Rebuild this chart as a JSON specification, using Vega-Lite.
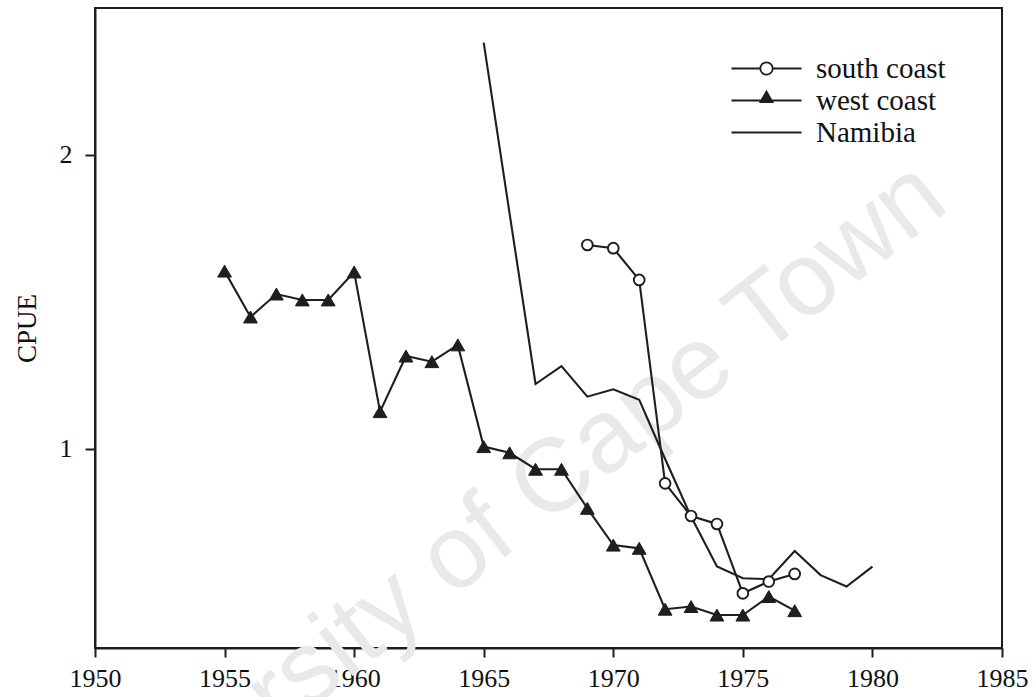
{
  "$schema": "https://vega.github.io/schema/vega-lite/v6.json",
  "width": 907,
  "height": 640,
  "autosize": {"type": "none"},
  "padding": {"left": 95, "top": 8, "right": 33, "bottom": 49},
  "background": "white",
  "config": {
    "view": {"stroke": "#1e1e1e", "strokeWidth": 2},
    "font": "Liberation Serif",
    "axis": {
      "domainColor": "#1e1e1e", "domainWidth": 2,
      "tickColor": "#1e1e1e", "tickWidth": 2,
      "labelFont": "Liberation Serif", "labelFontSize": 26, "labelColor": "#111111",
      "titleFont": "Liberation Serif", "titleFontSize": 27, "titleFontWeight": "normal", "titleColor": "#111111",
      "grid": false, "zindex": 1
    },
    "legend": {"symbolStrokeWidth": 1.8, "symbolStrokeColor": "#1e1e1e", "symbolOpacity": 1}
  },
  "data": {
    "values": [
      {"series": "west coast", "year": 1955, "cpue": 1.605},
      {"series": "west coast", "year": 1956, "cpue": 1.449},
      {"series": "west coast", "year": 1957, "cpue": 1.527},
      {"series": "west coast", "year": 1958, "cpue": 1.507},
      {"series": "west coast", "year": 1959, "cpue": 1.507},
      {"series": "west coast", "year": 1960, "cpue": 1.602},
      {"series": "west coast", "year": 1961, "cpue": 1.127},
      {"series": "west coast", "year": 1962, "cpue": 1.316},
      {"series": "west coast", "year": 1963, "cpue": 1.297},
      {"series": "west coast", "year": 1964, "cpue": 1.354},
      {"series": "west coast", "year": 1965, "cpue": 1.008},
      {"series": "west coast", "year": 1966, "cpue": 0.987},
      {"series": "west coast", "year": 1967, "cpue": 0.931},
      {"series": "west coast", "year": 1968, "cpue": 0.931},
      {"series": "west coast", "year": 1969, "cpue": 0.798},
      {"series": "west coast", "year": 1970, "cpue": 0.673},
      {"series": "west coast", "year": 1971, "cpue": 0.662},
      {"series": "west coast", "year": 1972, "cpue": 0.455},
      {"series": "west coast", "year": 1973, "cpue": 0.464},
      {"series": "west coast", "year": 1974, "cpue": 0.435},
      {"series": "west coast", "year": 1975, "cpue": 0.435},
      {"series": "west coast", "year": 1976, "cpue": 0.498},
      {"series": "west coast", "year": 1977, "cpue": 0.450},
      {"series": "south coast", "year": 1969, "cpue": 1.694},
      {"series": "south coast", "year": 1970, "cpue": 1.683},
      {"series": "south coast", "year": 1971, "cpue": 1.575},
      {"series": "south coast", "year": 1972, "cpue": 0.883},
      {"series": "south coast", "year": 1973, "cpue": 0.772},
      {"series": "south coast", "year": 1974, "cpue": 0.745},
      {"series": "south coast", "year": 1975, "cpue": 0.509},
      {"series": "south coast", "year": 1976, "cpue": 0.549},
      {"series": "south coast", "year": 1977, "cpue": 0.575},
      {"series": "Namibia", "year": 1965, "cpue": 2.382},
      {"series": "Namibia", "year": 1966, "cpue": 1.80},
      {"series": "Namibia", "year": 1967, "cpue": 1.221},
      {"series": "Namibia", "year": 1968, "cpue": 1.282},
      {"series": "Namibia", "year": 1969, "cpue": 1.178},
      {"series": "Namibia", "year": 1970, "cpue": 1.203},
      {"series": "Namibia", "year": 1971, "cpue": 1.167},
      {"series": "Namibia", "year": 1972, "cpue": 0.966},
      {"series": "Namibia", "year": 1973, "cpue": 0.770},
      {"series": "Namibia", "year": 1974, "cpue": 0.600},
      {"series": "Namibia", "year": 1975, "cpue": 0.560},
      {"series": "Namibia", "year": 1976, "cpue": 0.557},
      {"series": "Namibia", "year": 1977, "cpue": 0.653},
      {"series": "Namibia", "year": 1978, "cpue": 0.571},
      {"series": "Namibia", "year": 1979, "cpue": 0.532},
      {"series": "Namibia", "year": 1980, "cpue": 0.600}
    ]
  },
  "layer": [
    {
      "data": {"values": [{"label": "University of Cape Town"}]},
      "mark": {"type": "text", "font": "Liberation Sans", "fontSize": 104, "angle": -38, "color": "#e9e9e9", "align": "center", "baseline": "middle"},
      "encoding": {
        "text": {"field": "label"},
        "x": {"datum": 1965.3, "type": "quantitative"},
        "y": {"datum": 0.73, "type": "quantitative"}
      }
    },
    {
      "mark": {"type": "line", "stroke": "#1e1e1e", "strokeWidth": 2.1},
      "encoding": {
        "x": {
          "field": "year", "type": "quantitative",
          "scale": {"domain": [1950, 1985], "nice": false, "zero": false},
          "axis": {"values": [1950, 1955, 1960, 1965, 1970, 1975, 1980, 1985], "format": "d", "tickSize": 9, "labelPadding": 8, "labelFlush": false, "labelOverlap": false, "title": null}
        },
        "y": {
          "field": "cpue", "type": "quantitative",
          "scale": {"domain": [0.323, 2.5], "nice": false, "zero": false},
          "axis": {"values": [1, 2], "format": "d", "tickSize": 10, "labelPadding": 13, "title": "CPUE", "titlePadding": 18}
        },
        "detail": {"field": "series", "type": "nominal"}
      }
    },
    {
      "transform": [{"filter": "datum.series === 'south coast'"}],
      "mark": {"type": "point", "shape": "circle", "size": 115, "filled": true, "fill": "white", "stroke": "#1e1e1e", "strokeWidth": 1.9, "opacity": 1},
      "encoding": {
        "x": {"field": "year", "type": "quantitative"},
        "y": {"field": "cpue", "type": "quantitative"}
      }
    },
    {
      "transform": [{"filter": "datum.series === 'west coast'"}],
      "mark": {"type": "point", "shape": "triangle-up", "size": 190, "filled": true, "fill": "#1e1e1e", "stroke": "#1e1e1e", "strokeWidth": 1, "opacity": 1},
      "encoding": {
        "x": {"field": "year", "type": "quantitative"},
        "y": {"field": "cpue", "type": "quantitative"}
      }
    },
    {
      "transform": [{"filter": "false"}],
      "mark": {"type": "point", "filled": true, "strokeWidth": 1.8, "opacity": 1},
      "encoding": {
        "x": {"field": "year", "type": "quantitative"},
        "y": {"field": "cpue", "type": "quantitative"},
        "shape": {
          "field": "series", "type": "nominal",
          "scale": {
            "domain": ["south coast", "west coast", "Namibia"],
            "range": [
              "M-3.5,0L-0.62,0M0.62,0L3.5,0M0.62,0A0.62,0.62,0,1,1,-0.62,0A0.62,0.62,0,1,1,0.62,0",
              "M-3.5,0L3.5,0M-0.6,0.15L0,-0.9L0.6,0.15Z",
              "M-3.5,0L3.5,0"
            ]
          },
          "legend": {
            "title": null, "orient": "none", "legendX": 657, "legendY": 46, "symbolSize": 400,
            "labelFont": "Liberation Serif", "labelFontSize": 29, "labelColor": "#111111",
            "labelOffset": 35, "rowPadding": 2, "padding": 0, "labelLimit": 400
          }
        },
        "fill": {
          "field": "series", "type": "nominal",
          "scale": {"domain": ["south coast", "west coast", "Namibia"], "range": ["white", "#1e1e1e", "#1e1e1e"]},
          "legend": {
            "title": null, "orient": "none", "legendX": 657, "legendY": 46, "symbolSize": 400,
            "labelFont": "Liberation Serif", "labelFontSize": 29, "labelColor": "#111111",
            "labelOffset": 35, "rowPadding": 2, "padding": 0, "labelLimit": 400
          }
        },
        "stroke": {
          "field": "series", "type": "nominal",
          "scale": {"domain": ["south coast", "west coast", "Namibia"], "range": ["#1e1e1e", "#1e1e1e", "#1e1e1e"]},
          "legend": {
            "title": null, "orient": "none", "legendX": 657, "legendY": 46, "symbolSize": 400,
            "labelFont": "Liberation Serif", "labelFontSize": 29, "labelColor": "#111111",
            "labelOffset": 35, "rowPadding": 2, "padding": 0, "labelLimit": 400
          }
        }
      }
    }
  ]
}
